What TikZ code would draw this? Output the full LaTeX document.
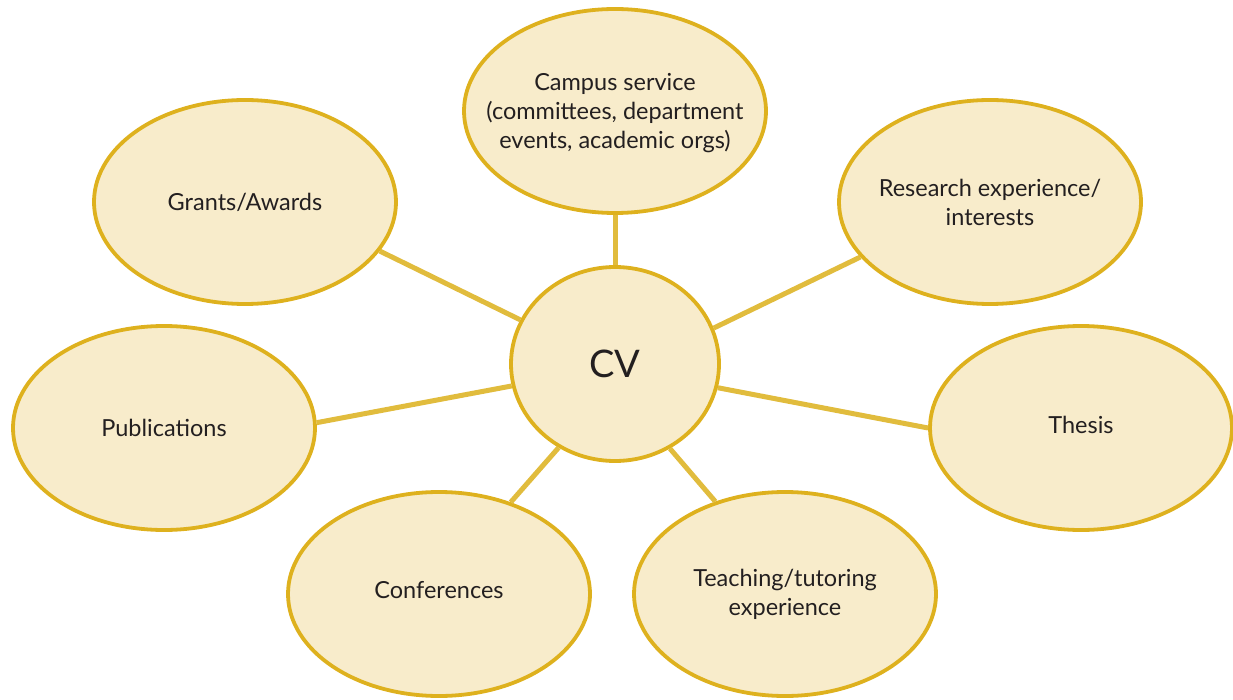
\documentclass[tikz,border=0pt]{standalone}
\usepackage{fontspec}
\setmainfont{Lato}
\usetikzlibrary{shapes.geometric}
\definecolor{bubblefill}{HTML}{F8ECCB}
\definecolor{bubbleline}{HTML}{DEB11E}
\definecolor{linkline}{HTML}{E1BC3D}
\definecolor{textcol}{HTML}{231F20}
\tikzset{
  bubble/.style={ellipse, draw=bubbleline, fill=bubblefill, line width=3.8pt,
    minimum width=302pt, minimum height=204pt, inner sep=0pt},
  hub/.style={bubble, minimum width=208pt, minimum height=194pt},
  txt/.style={align=center, text=textcol, inner sep=0pt, font=\fontsize{23.5}{29}\selectfont},
  hubtxt/.style={txt, font=\fontsize{38}{40}\selectfont},
  link/.style={draw=linkline, line width=5pt}
}
\begin{document}
\begin{tikzpicture}[x=1pt,y=-1pt]
\useasboundingbox (0,0) rectangle (1233,700);
\node[hub, label={[hubtxt]center:CV}] (cv) at (615,364) {};
\node[bubble, label={[txt, yshift=-2pt]center:Campus service\\(committees, department\\events, academic orgs)}] (campus) at (615,111) {};
\node[bubble, label={[txt]center:Grants/Awards}] (grants) at (245,202) {};
\node[bubble, label={[txt]center:Research experience/\\interests}] (research) at (990,202) {};
\node[bubble, label={[txt]center:Publications}] (pubs) at (164,428) {};
\node[bubble, label={[txt, yshift=3pt]center:Thesis}] (thesis) at (1081,428) {};
\node[bubble, label={[txt, yshift=4pt]center:Conferences}] (conf) at (439,594) {};
\node[bubble, label={[txt]center:Teaching/tutoring\\experience}] (teach) at (785,594) {};
\draw[link] (cv.90) -- (campus.270);
\draw[link] (cv.155) -- (grants.-20);
\draw[link] (cv.20) -- (research.203);
\draw[link] (cv.192) -- (pubs.2);
\draw[link] (cv.-13) -- (thesis.180);
\draw[link] (cv.236) -- (conf.52);
\draw[link] (cv.-57) -- (teach.127);
\end{tikzpicture}
\end{document}
